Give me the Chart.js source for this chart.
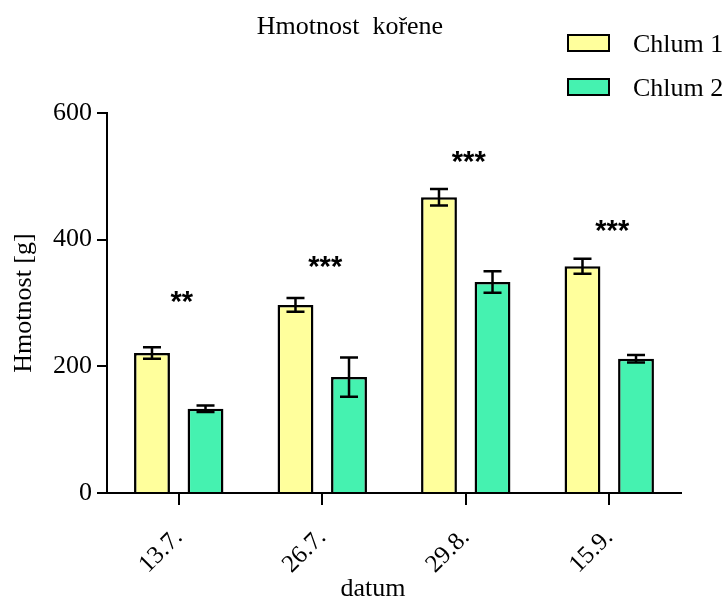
<!DOCTYPE html>
<html>
<head>
<meta charset="utf-8">
<script src="https://cdn.jsdelivr.net/npm/chart.js"></script>
<style>
  body { margin: 0; background: #fff; }
  #wrap { width: 725px; height: 598px; }
</style>
</head>
<body>
<div id="wrap"><canvas id="rootChart" width="725" height="598"></canvas></div>
<script>
const categories = ['13.7.', '26.7.', '29.8.', '15.9.'];
const chlum1 = [221, 297, 467, 358];
const chlum2 = [133, 183, 333, 212];
const chlum1Err = [9, 11, 13, 12];
const chlum2Err = [5, 31, 17, 6];
// significance marks and the value level they sit at
const stars = ['**', '***', '***', '***'];
const starLevel = [312, 368, 534, 424];
const yTicks = [0, 200, 400, 600];

const serif = "'Liberation Serif', 'Times New Roman', serif";
const yellow = '#FFFF9C';
const green = '#45F2B0';

// error bars + asterisks, then title, axis titles and legend
const markPlugin = {
  id: 'marks',
  afterDatasetsDraw(chart) {
    const ctx = chart.ctx;
    const y = chart.scales.y;
    const errs = [chlum1Err, chlum2Err];
    ctx.save();
    ctx.strokeStyle = '#000';
    ctx.lineWidth = 2.5;
    chart.data.datasets.forEach((ds, i) => {
      chart.getDatasetMeta(i).data.forEach((bar, j) => {
        const top = y.getPixelForValue(ds.data[j] + errs[i][j]);
        const bot = y.getPixelForValue(ds.data[j] - errs[i][j]);
        ctx.beginPath();
        ctx.moveTo(bar.x, top); ctx.lineTo(bar.x, bot);
        ctx.moveTo(bar.x - 9, top); ctx.lineTo(bar.x + 9, top);
        ctx.moveTo(bar.x - 9, bot); ctx.lineTo(bar.x + 9, bot);
        ctx.stroke();
      });
    });
    ctx.fillStyle = '#000';
    ctx.font = "bold 29px 'Liberation Sans', Arial, sans-serif";
    ctx.textAlign = 'center';
    ctx.textBaseline = 'alphabetic';
    categories.forEach((c, j) => {
      const x = chart.scales.x.getPixelForValue(j) + 3;
      ctx.fillText(stars[j], x, y.getPixelForValue(starLevel[j]) + 16);
    });
    ctx.restore();
  },
  afterDraw(chart) {
    const ctx = chart.ctx;
    const area = chart.chartArea;
    ctx.save();
    ctx.fillStyle = '#000';
    ctx.font = '26px ' + serif;
    ctx.textAlign = 'center';
    ctx.textBaseline = 'alphabetic';
    ctx.fillText('Hmotnost  kořene', 350, 34);
    ctx.fillText('datum', 373, 596);
    ctx.save();
    ctx.translate(31, (area.top + area.bottom) / 2);
    ctx.rotate(-Math.PI / 2);
    ctx.fillText('Hmotnost [g]', 0, 0);
    ctx.restore();
    ctx.textAlign = 'left';
    chart.data.datasets.forEach((ds, i) => {
      const top = 35 + i * 44;
      ctx.fillStyle = ds.backgroundColor;
      ctx.fillRect(568, top, 41, 16);
      ctx.strokeStyle = '#000';
      ctx.lineWidth = 2;
      ctx.strokeRect(568, top, 41, 16);
      ctx.fillStyle = '#000';
      ctx.fillText(ds.label, 633, top + 17);
    });
    ctx.restore();
  }
};

new Chart(document.getElementById('rootChart').getContext('2d'), {
  type: 'bar',
  data: {
    labels: categories,
    datasets: [{
      label: 'Chlum 1',
      data: chlum1,
      backgroundColor: yellow,
      borderColor: '#000',
      borderWidth: 2.5
    }, {
      label: 'Chlum 2',
      data: chlum2,
      backgroundColor: green,
      borderColor: '#000',
      borderWidth: 2.5
    }]
  },
  options: {
    responsive: false,
    animation: false,
    layout: { padding: { top: 113, right: 44, left: 0, bottom: 0 } },
    categoryPercentage: 0.746,
    barPercentage: 0.67,
    plugins: {
      legend: { display: false },
      title: { display: false },
      tooltip: { enabled: false }
    },
    scales: {
      x: {
        grid: { offset: false, drawOnChartArea: false, drawTicks: true, tickLength: 12, color: '#000', lineWidth: 2 },
        border: { display: true, color: '#000', width: 2 },
        ticks: { color: '#000', font: { family: serif, size: 25 }, minRotation: 45, maxRotation: 45, padding: 18 },
        afterFit(scale) { scale.height = 105; }
      },
      y: {
        min: 0,
        max: 600,
        afterBuildTicks(scale) { scale.ticks = yTicks.map(v => ({ value: v })); },
        grid: { drawOnChartArea: false, drawTicks: true, tickLength: 10, color: '#000', lineWidth: 2 },
        border: { display: true, color: '#000', width: 2 },
        ticks: { color: '#000', font: { family: serif, size: 26 }, padding: 5 },
        afterFit(scale) { scale.width = 107; }
      }
    }
  },
  plugins: [markPlugin]
});
</script>
</body>
</html>
